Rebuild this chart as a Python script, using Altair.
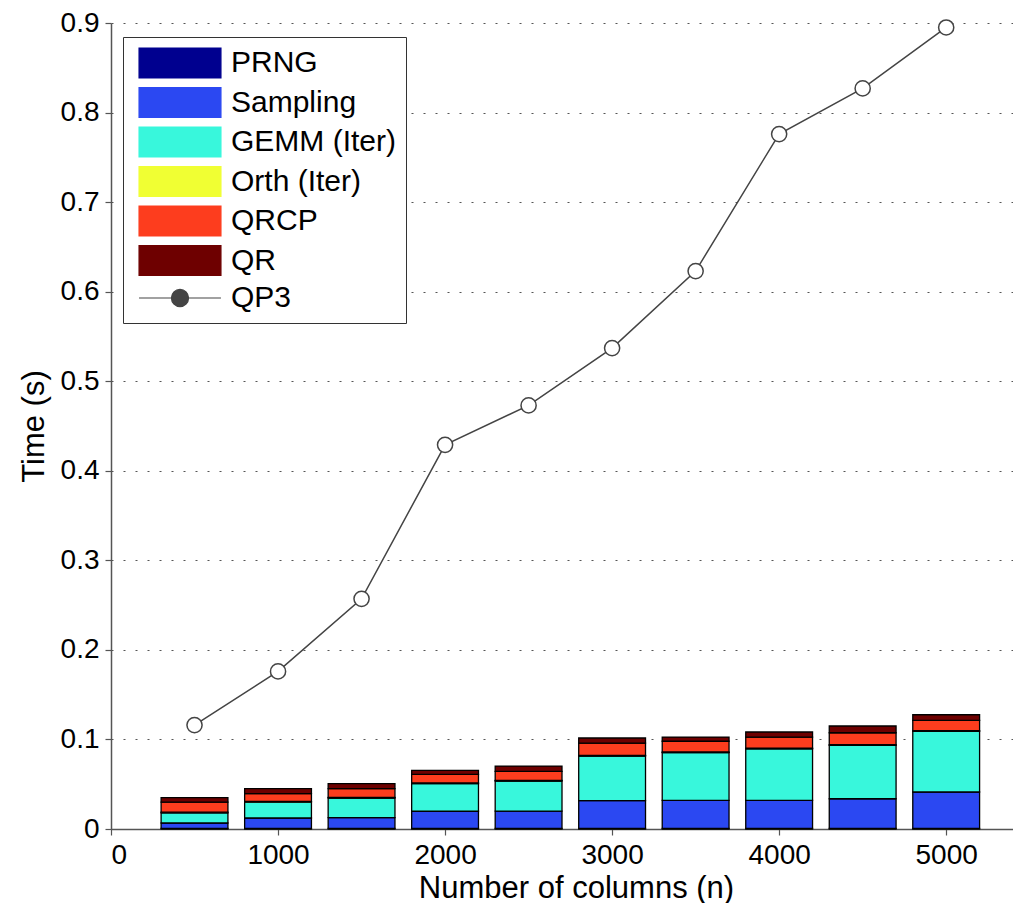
import altair as alt
import pandas as pd
from altair.utils import schemapi

n_cols = [500, 1000, 1500, 2000, 2500, 3000, 3500, 4000, 4500, 5000]
prng = [0.0008, 0.0008, 0.0008, 0.0008, 0.0008, 0.0008, 0.0008, 0.0008, 0.0008, 0.0008]
sampling = [0.0059, 0.0115, 0.0120, 0.0190, 0.0192, 0.0308, 0.0312, 0.0312, 0.0330, 0.0405]
gemm = [0.0113, 0.0177, 0.0218, 0.0308, 0.0336, 0.0499, 0.0532, 0.0576, 0.0596, 0.0677]
orth = [0.0008, 0.0008, 0.0008, 0.0008, 0.0008, 0.0008, 0.0008, 0.0008, 0.0008, 0.0008]
qrcp = [0.0112, 0.0086, 0.0096, 0.0096, 0.0100, 0.0137, 0.0120, 0.0123, 0.0133, 0.0115]
qr = [0.0050, 0.0056, 0.0056, 0.0045, 0.0059, 0.0056, 0.0047, 0.0056, 0.0075, 0.0063]
qp3 = [0.116, 0.176, 0.257, 0.429, 0.473, 0.537, 0.623, 0.776, 0.827, 0.895]

series_names = ["PRNG", "Sampling", "GEMM (Iter)", "Orth (Iter)", "QRCP", "QR", "QP3"]
series_colors = ["#00008f", "#2b48f2", "#38f7dc", "#f0ff33", "#fd3d1e", "#6e0000", "#444444"]
x_ticks = [0, 1000, 2000, 3000, 4000, 5000]
y_ticks = [0, 0.1, 0.2, 0.3, 0.4, 0.5, 0.6, 0.7, 0.8, 0.9]

rows = []
for name, vals in zip(series_names[:6], [prng, sampling, gemm, orth, qrcp, qr]):
    for n, v in zip(n_cols, vals):
        rows.append({"n": n, "series": name, "value": v, "order": series_names.index(name)})
bars_df = pd.DataFrame(rows)
line_df = pd.DataFrame({"n": n_cols, "time": qp3, "series": ["QP3"] * len(n_cols)})

FONT = "Liberation Sans"
RECT = "M-2.73,-1H2.73V1H-2.73Z"
LINEC = "M-2.73,0H-0.57M0.57,0H2.73M0.57,0A0.57,0.57,0,1,1,-0.57,0A0.57,0.57,0,1,1,0.57,0"

# Legend/axis "encode" blocks are understood by the Vega-Lite compiler but hidden
# from its JSON schema, so skip schema validation.
try:
    schemapi.disable_debug_mode()
except Exception:
    schemapi.DEBUG_MODE = False

_orig_to_dict = alt.LayerChart.to_dict


def _to_dict_no_validate(self, *args, **kwargs):
    kwargs["validate"] = False
    return _orig_to_dict(self, *args, **kwargs)


alt.LayerChart.to_dict = _to_dict_no_validate

color_scale = alt.Scale(domain=series_names, range=series_colors)

legend = alt.Legend(
    title=None,
    orient="none",
    legendX=12,
    legendY=14,
    symbolSize=900,
    symbolType=RECT,
    labelFontSize=30,
    labelFont=FONT,
    labelColor="black",
    labelOffset=66,
    labelLimit=400,
    padding=10,
    rowPadding=3.5,
    strokeColor="#333333",
    fillColor="white",
    symbolStrokeColor="black",
    symbolStrokeWidth=1.2,
    encode={
        "symbols": {
            "update": {
                "shape": {"signal": f"datum.value === 'QP3' ? '{LINEC}' : '{RECT}'"},
                "fill": {"signal": "datum.value === 'QP3' ? 'white' : scale('color', datum.value)"},
                "stroke": {"signal": "datum.value === 'QP3' ? '#444444' : 'black'"},
                "x": {"value": 47},
            }
        }
    },
)

x_enc = alt.X(
    "x0:Q",
    scale=alt.Scale(domain=[0, 5400], nice=False),
    axis=alt.Axis(
        values=x_ticks, format="d", title="Number of columns (n)", grid=False,
        titleX=465, titlePadding=4,
        encode={"ticks": {"update": {"y2": {"value": -6}}}},
    ),
)
y_axis = alt.Axis(
    values=y_ticks, title="Time (s)", grid=True, titlePadding=10,
    labelExpr="datum.value == 0 ? '0' : format(datum.value, '.1f')",
    encode={"ticks": {"update": {"x2": {"value": 6}}}},
)
y_scale = alt.Scale(domain=[0, 0.9], nice=False)

bars = (
    alt.Chart(bars_df)
    .transform_stack(stack="value", groupby=["n"], as_=["y0", "y1"], sort=[alt.SortField("order")])
    .transform_calculate(x0="datum.n - 200", x1="datum.n + 200")
    .mark_bar(stroke="black", strokeWidth=1.3)
    .encode(
        x=x_enc,
        x2="x1:Q",
        y=alt.Y("y0:Q", scale=y_scale, axis=y_axis),
        y2="y1:Q",
        color=alt.Color("series:N", scale=color_scale, legend=legend),
    )
)

line = (
    alt.Chart(line_df)
    .mark_line(strokeWidth=1.5)
    .encode(
        x=alt.X("n:Q"),
        y=alt.Y("time:Q"),
        color=alt.Color("series:N", scale=color_scale, legend=legend),
    )
)
points = (
    alt.Chart(line_df)
    .mark_point(shape="circle", size=230, filled=False, fill="white", fillOpacity=1, strokeWidth=1.5, opacity=1)
    .encode(
        x=alt.X("n:Q"),
        y=alt.Y("time:Q"),
        color=alt.Color("series:N", scale=color_scale, legend=legend),
    )
)

chart = (
    alt.layer(bars, line, points)
    .properties(width=902, height=806, padding={"left": 10, "top": 1, "right": 0, "bottom": 0})
    .configure_view(stroke=None)
    .configure_axis(
        labelFont=FONT, titleFont=FONT, labelFontSize=28, titleFontSize=31,
        labelColor="black", titleColor="black", titleFontWeight="normal",
        domainColor="#555555", domainWidth=1.5, tickColor="#555555", tickWidth=1.2,
        tickSize=6, labelPadding=6,
        gridColor="#555555", gridDash=[2, 10], gridWidth=1.2,
    )
)

chart.save("out.html", embed_options={"renderer": "svg", "actions": False})
